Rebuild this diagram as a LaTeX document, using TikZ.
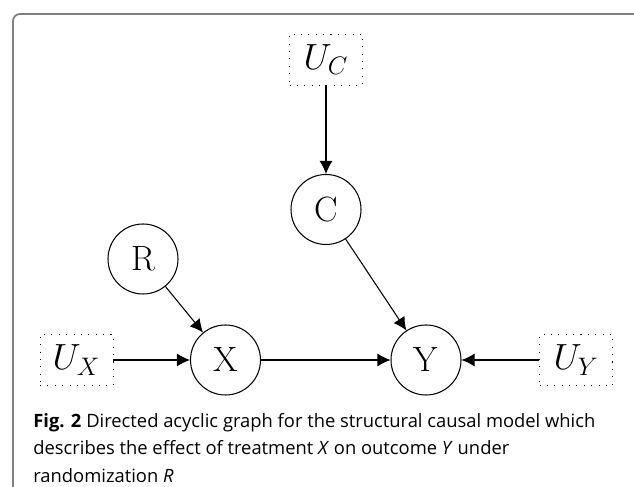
\documentclass[tikz,border=0pt]{standalone}
\usepackage{fontspec}
\usepackage{amsmath}
\newfontfamily\capfont{Open Sans}
\usetikzlibrary{
    arrows.meta,
    positioning
}
\tikzset{
  var/.style    = {draw, circle, minimum size=1.4cm, inner sep=0pt,
                   line width=0.6pt, font=\fontsize{20}{24}\selectfont},
  noise/.style  = {draw, dash pattern=on 0.6pt off 3.6pt, minimum width=1.46cm,
                   minimum height=1.02cm, inner sep=0pt,
                   font=\fontsize{20.74}{24}\selectfont},
  arr/.style    = {-{Latex[length=2.6mm,width=2.6mm]}, line width=0.6pt},
  frameline/.style = {draw=black!50, line width=1pt, rounded corners=4pt}
}

\begin{document}
\begin{tikzpicture}
    \useasboundingbox (0,0) rectangle (12.68,9.74);
    \draw[frameline] (0.26,0) -- (0.26,9.46) -- (12.80,9.46);

    \node[noise] (UC) at (6.52,8.55) {$U_C$};
    \node[var]   (C)  at (6.52,5.55) {C};
    \node[var]   (R)  at (2.86,4.56) {R};
    \node[var]   (X)  at (4.51,2.54) {X};
    \node[var]   (Y)  at (8.52,2.54) {Y};
    \node[noise] (UX) at (1.53,2.54) {$U_X$};
    \node[noise] (UY) at (11.52,2.54) {$U_Y$};

    \draw[arr] (UC) -- (C);
    \draw[arr] (C)  -- (Y);
    \draw[arr] (R)  -- (X);
    \draw[arr] (UX) -- (X);
    \draw[arr] (X)  -- (Y);
    \draw[arr] (UY) -- (Y);

    % caption
    \node[anchor=north west, inner sep=0pt, align=left,
          font=\capfont\fontsize{10.45}{15.4}\selectfont] (cap) at (0.66,1.47)
      {\textbf{Fig. 2} Directed acyclic graph for the structural causal model which\\
       describes the effect of treatment \textit{X} on outcome \textit{Y} under\\
       randomization \textit{R}};
\end{tikzpicture}
\end{document}
